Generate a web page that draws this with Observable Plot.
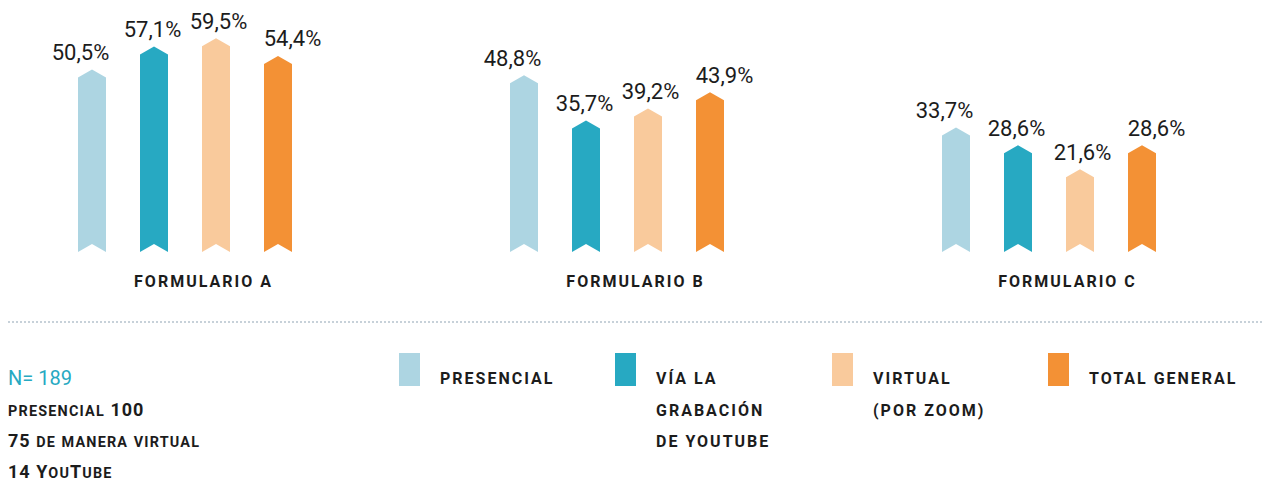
<!DOCTYPE html>
<html>
<head>
<meta charset="utf-8">
<script src="https://cdn.jsdelivr.net/npm/d3@7"></script>
<script src="https://cdn.jsdelivr.net/npm/@observablehq/plot@0.6"></script>
<style>
  html, body { margin: 0; padding: 0; background: #fff; }
  body { font-family: Roboto, "Noto Sans", sans-serif; color: #1c1c1c; }
  #wrap { position: relative; width: 1265px; height: 483px; overflow: hidden; }
  #chart svg { display: block; }
  #chart [aria-label="fx-axis tick label"] text { letter-spacing: 2px; }
  .sep { position: absolute; left: 8px; top: 321px; width: 1254px; border-top: 2px dotted #c7d1d9; }
  .n { position: absolute; left: 8px; top: 368px; font-size: 20px; line-height: 20px; color: #27a9c2; }
  .sample { position: absolute; left: 8px; top: 400px; font-size: 18px; font-weight: 700; letter-spacing: 1px; color: #1c1c1c; white-space: nowrap; }
  .sample div { line-height: 19px; height: 19px; margin-bottom: 12px; }
  .sample .sc { font-size: 0.8em; letter-spacing: 1.2px; }
  .lg { position: absolute; top: 353px; }
  .lg .sw { position: absolute; left: 0; top: 0; width: 21px; height: 33px; }
  .lg .tx { position: absolute; left: 41px; top: 10px; font-size: 16px; line-height: 31.5px; font-weight: 700; letter-spacing: 2px; white-space: nowrap; color: #1c1c1c; }
</style>
</head>
<body>
<div id="wrap">
  <div id="chart"></div>
</div>
<script>
// ---- data ----
const groups = ["FORMULARIO A", "FORMULARIO B", "FORMULARIO C"];
const series = ["Presencial", "Vía la grabación de YouTube", "Virtual (por Zoom)", "Total general"];
const formularioA = [50.5, 57.1, 59.5, 54.4];
const formularioB = [48.8, 35.7, 39.2, 43.9];
const formularioC = [33.7, 28.6, 21.6, 28.6];
const colors = ["#add5e2", "#27a9c2", "#f9ca9c", "#f39135"];
const legendLabels = [["PRESENCIAL"], ["VÍA LA", "GRABACIÓN", "DE YOUTUBE"], ["VIRTUAL", "(POR ZOOM)"], ["TOTAL GENERAL"]];
const sampleTitle = "N= 189";
const sampleLines = ["presencial 100", "75 de manera virtual", "14 YouTube"];

// ---- styling constants ----
const labelDx = [-12, -2, 2, 14];
const legendX = [399, 615, 832, 1048];

const valuesByGroup = [formularioA, formularioB, formularioC];
const data = [];
groups.forEach((g, gi) => series.forEach((s, si) => data.push({group: g, series: s, value: valuesByGroup[gi][si]})));

const fmt = v => d3.format(".1f")(v).replace(".", ",") + "%";

function arrowBars(index, scales, values, dimensions, context, next) {
  const g = next(index, scales, values, dimensions, context);
  d3.select(g).selectAll("rect").each(function () {
    const x = +this.getAttribute("x"), y = +this.getAttribute("y");
    const w = +this.getAttribute("width"), h = +this.getAttribute("height");
    const m = x + w / 2, b = y + h, tip = 8;
    const p = document.createElementNS("http://www.w3.org/2000/svg", "path");
    p.setAttribute("d", `M${x},${b}L${m},${b - tip}L${x + w},${b}L${x + w},${y}L${m},${y - tip}L${x},${y}Z`);
    p.setAttribute("fill", this.getAttribute("fill"));
    this.replaceWith(p);
  });
  return g;
}

const chart = Plot.plot({
  width: 1265,
  height: 300,
  marginTop: 10,
  marginBottom: 48,
  marginLeft: 60,
  marginRight: 91,
  style: {fontFamily: "Roboto, sans-serif", background: "transparent"},
  fx: {domain: groups, paddingInner: 1 - 250 / 432, paddingOuter: 0},
  x: {domain: series, paddingInner: 0.553, paddingOuter: 0.27, axis: null},
  y: {domain: [0, 70], axis: null},
  color: {domain: series, range: colors},
  marks: [
    Plot.axisFx({anchor: "bottom", tickSize: 0, tickPadding: 23, fontSize: 16, fontWeight: 700, dx: 18, label: null, fill: "#1c1c1c"}),
    Plot.barY(data, {fx: "group", x: "series", y: "value", fill: "series", render: arrowBars}),
    ...series.map((s, i) => Plot.text(data.filter(d => d.series === s), {
      fx: "group", x: "series", y: "value", text: d => fmt(d.value),
      dy: -25, dx: labelDx[i], fontSize: 22, fontWeight: 400, fill: "#1c1c1c"
    }))
  ]
});
const wrap = document.getElementById("wrap");
document.getElementById("chart").append(chart);

// separator
const sep = document.createElement("div");
sep.className = "sep";
wrap.append(sep);

// sample size text
const n = document.createElement("div");
n.className = "n";
n.textContent = sampleTitle;
wrap.append(n);

// small-caps rendering: lowercase runs become smaller capitals
const smallCaps = str => str.replace(/[a-záéíóúñ]+/g, m => `<span class="sc">${m.toUpperCase()}</span>`);
const sample = document.createElement("div");
sample.className = "sample";
sample.innerHTML = sampleLines.map(l => `<div>${smallCaps(l)}</div>`).join("");
wrap.append(sample);

// legend
series.forEach((s, i) => {
  const item = document.createElement("div");
  item.className = "lg";
  item.style.left = legendX[i] + "px";
  item.innerHTML = `<div class="sw" style="background:${colors[i]}"></div><div class="tx">${legendLabels[i].map(l => `<div>${l}</div>`).join("")}</div>`;
  wrap.append(item);
});
</script>
</body>
</html>
